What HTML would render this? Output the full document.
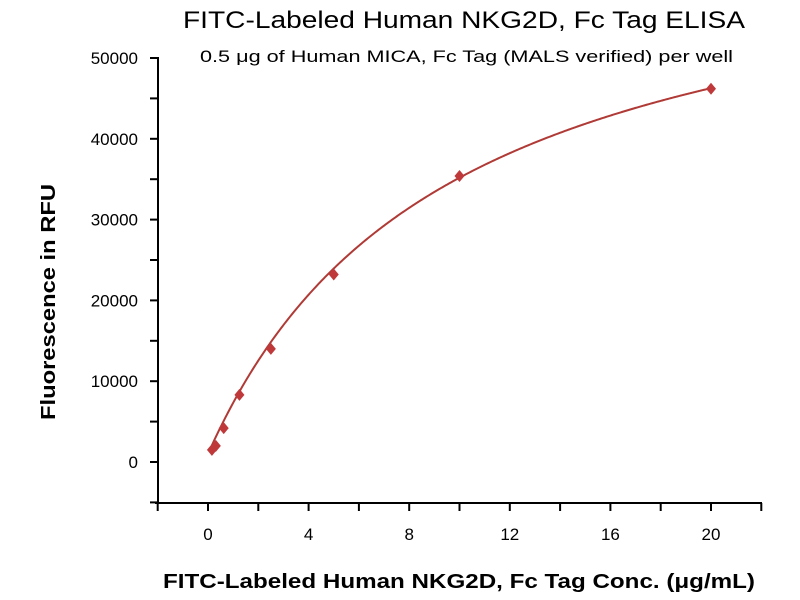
<!DOCTYPE html><html><head><style>body{margin:0;background:#fff}svg{display:block}text{font-family:"Liberation Sans",sans-serif}</style></head><body>
<svg id="s" width="800" height="600" xmlns="http://www.w3.org/2000/svg">
<text x="183" y="28" font-size="24" textLength="562" lengthAdjust="spacingAndGlyphs">FITC-Labeled Human NKG2D, Fc Tag ELISA</text>
<text x="200" y="62" font-size="17" textLength="533" lengthAdjust="spacingAndGlyphs">0.5 μg of Human MICA, Fc Tag (MALS verified) per well</text>
<g stroke="#000" stroke-width="2" fill="none">
<path d="M158,57V503M155,503H762"/>
<g id="t"></g>
</g>
<g font-size="17" text-anchor="end" id="yl"></g>
<g font-size="17" text-anchor="middle" id="xl"></g>
<text x="163" y="588" font-size="20" font-weight="bold" textLength="592" lengthAdjust="spacingAndGlyphs">FITC-Labeled Human NKG2D, Fc Tag Conc. (μg/mL)</text>
<text transform="translate(55,420) rotate(-90)" font-size="20" font-weight="bold" textLength="236" lengthAdjust="spacingAndGlyphs">Fluorescence in RFU</text>
<path id="c" fill="none" stroke="#b03a36" stroke-width="2"/>
<g id="p" fill="#c0393a"></g>
</svg>
<script>
const px=x=>208+x*25.15,py=y=>462-y*0.00808;let t='',yl='',xl='',p='';
for(let v=-5000;v<=50000;v+=5000){const y=py(v);t+=`<path d="M150,${y}H158"/>`;if(v>=0&&v%10000==0)yl+=`<text x="138" y="${y+6}">${v}</text>`;}
for(let x=-2;x<=22;x+=2){const X=px(x);t+=`<path d="M${X},503V511"/>`;if(x>=0&&x%4==0)xl+=`<text x="${X}" y="540">${x}</text>`;}
document.getElementById('t').innerHTML=t;document.getElementById('yl').innerHTML=yl;document.getElementById('xl').innerHTML=xl;
const f=x=>1000+67000*x/(9.6+x);let d='';for(let x=0.156;x<=20;x+=0.05)d+=(d?'L':'M')+px(x)+','+py(f(x));
document.getElementById('c').setAttribute('d',d);
[[0.156,1500],[0.3125,2000],[0.625,4200],[1.25,8300],[2.5,14000],[5,23200],[10,35400],[20,46200]].forEach(([x,y])=>{const X=px(x),Y=py(y);p+=`<path d="M${X},${Y-6}L${X+5},${Y}L${X},${Y+6}L${X-5},${Y}Z"/>`;});
document.getElementById('p').innerHTML=p;
</script></body></html>
